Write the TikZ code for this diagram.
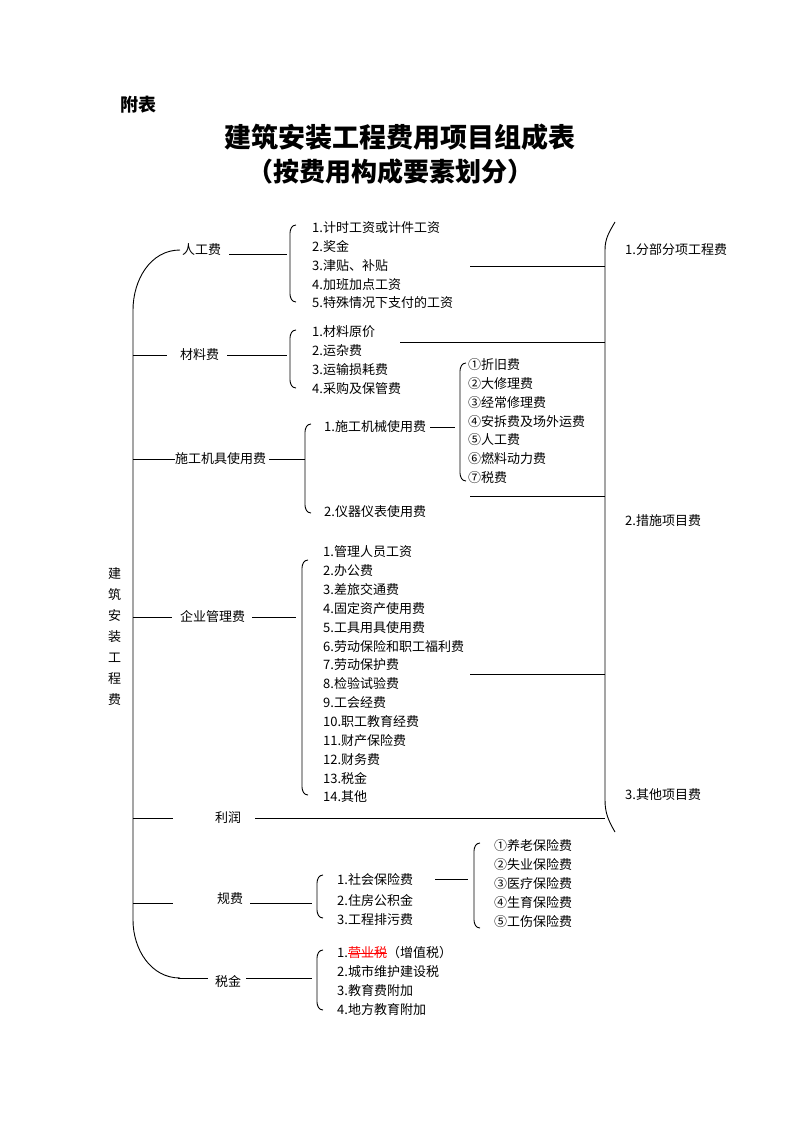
\documentclass[tikz,border=0pt]{standalone}
\usepackage{fontspec}
\setmainfont{Noto Sans CJK SC}
\tikzset{
  itm/.style={anchor=west,inner sep=0pt,font=\fontsize{13}{14}\selectfont},
  cat/.style={anchor=west,inner sep=0pt,font=\fontsize{13}{14}\selectfont},
  ln/.style={line width=0.9pt},
}
% left brace from (x,y1) to (x,y2)
\newcommand{\brk}[3]{\draw[ln] (#1+6,#2) to[out=180,in=90] (#1,#2+8) -- (#1,#3-8) to[out=-90,in=180] (#1+6,#3);}
\begin{document}
\begin{tikzpicture}[x=1pt,y=-1pt]
  \useasboundingbox (0,0) rectangle (800,1132);

  \node[anchor=west,inner sep=0pt,font=\fontsize{18}{18}\selectfont\bfseries] (fb) at (120,105) {附表};
  \node[font=\fontsize{27}{28}\selectfont\bfseries] (t1) at (400,137) {建筑安装工程费用项目组成表};
  \node[font=\fontsize{26}{28}\selectfont\bfseries] (t2) at (390,172) {（按费用构成要素划分）};

  % main brace
  \draw[ln] (180,250) to[out=180,in=90] (133,310) -- (133,920) to[out=-90,in=180] (180,978);
  \foreach \c [count=\i] in {建,筑,安,装,工,程,费}
    \node[cat] (zt\i) at (108,553+\i*21) {\c};

  % categories
  \node[cat] (rgf) at (182,250) {人工费};
  \node[cat] (clf) at (180,355) {材料费};
  \node[cat] (jjf) at (175,459) {施工机具使用费};
  \node[cat] (glf) at (180,617) {企业管理费};
  \node[cat] (lr)  at (215,818) {利润};
  \node[cat] (gf)  at (217,899) {规费};
  \node[cat] (sj)  at (215,982) {税金};

  \draw[ln] (133,355) -- (167,355);
  \draw[ln] (133,459) -- (jjf.west);
  \draw[ln] (133,617) -- (172,617);
  \draw[ln] (133,818) -- (173,818);
  \draw[ln] (133,903) -- (173,903);
  \draw[ln] (178,978) -- (208,978);

  % 人工费
  \draw[ln] (rgf.east)++(8,4) -- (287,254);
  \brk{290}{225}{302}
  \foreach \t [count=\i] in {1.计时工资或计件工资,2.奖金,3.津贴、补贴,4.加班加点工资,5.特殊情况下支付的工资}
    \node[itm] (rg\i) at (312,209+\i*18.8) {\t};
  \draw[ln] (470,266) -- (605,266);

  % 材料费
  \draw[ln] (clf.east)++(8,0) -- (287,355);
  \brk{290}{330}{388}
  \foreach \t [count=\i] in {1.材料原价,2.运杂费,3.运输损耗费,4.采购及保管费}
    \node[itm] (cl\i) at (312,313+\i*19) {\t};
  \draw[ln] (400,342) -- (605,342);

  % 施工机具使用费
  \draw[ln] (jjf.east)++(3,0) -- (305,459);
  \brk{305}{424}{513}
  \node[itm] (jj1) at (324,427) {1.施工机械使用费};
  \node[itm] (jj2) at (324,512) {2.仪器仪表使用费};
  \draw[ln] (jj1.east)++(4,0) -- (455,427);
  \brk{460}{363}{481}
  \foreach \t [count=\i] in {①折旧费,②大修理费,③经常修理费,④安拆费及场外运费,⑤人工费,⑥燃料动力费,⑦税费}
    \node[itm] (jx\i) at (468,346+\i*18.8) {\t};
  \draw[ln] (470,496) -- (605,496);

  % 企业管理费
  \draw[ln] (glf.east)++(7,0) -- (296,617);
  \brk{302}{560}{795}
  \foreach \t [count=\i] in {1.管理人员工资,2.办公费,3.差旅交通费,4.固定资产使用费,5.工具用具使用费,6.劳动保险和职工福利费,7.劳动保护费,8.检验试验费,9.工会经费,10.职工教育经费,11.财产保险费,12.财务费,13.税金,14.其他}
    \node[itm] (gl\i) at (323,533+\i*18.85) {\t};
  \draw[ln] (470,674) -- (605,674);

  % 利润
  \draw[ln] (lr.east)++(14,0) -- (605,818);

  % 规费
  \draw[ln] (gf.east)++(7,4) -- (312,903);
  \brk{317}{875}{918}
  \foreach \t [count=\i] in {1.社会保险费,2.住房公积金,3.工程排污费}
    \node[itm] (gf\i) at (337,860+\i*20) {\t};
  \draw[ln] (435,879) -- (468,879);
  \brk{474}{843}{928}
  \foreach \t [count=\i] in {①养老保险费,②失业保险费,③医疗保险费,④生育保险费,⑤工伤保险费}
    \node[itm] (sb\i) at (494,827+\i*19) {\t};

  % 税金
  \draw[ln] (sj.east)++(5,-4) -- (312,978);
  \brk{317}{950}{1010}
  \node[itm] (sj1) at (337,953) {1.\textcolor{red}{\rlap{营业税}\rule[0.32em]{3em}{0.5pt}}（增值税）};
  \foreach \t [count=\i from 2] in {2.城市维护建设税,3.教育费附加,4.地方教育附加}
    \node[itm] (sj\i) at (337,934+\i*18.8) {\t};

  % right brace
  \draw[ln] (615,222) to[out=-120,in=90] (605,250) -- (605,800) to[out=-90,in=120] (615,832);
  \node[itm] (fx) at (625,250) {1.分部分项工程费};
  \node[itm] (cs) at (625,521) {2.措施项目费};
  \node[itm] (qt) at (625,795) {3.其他项目费};
\end{tikzpicture}
\end{document}
